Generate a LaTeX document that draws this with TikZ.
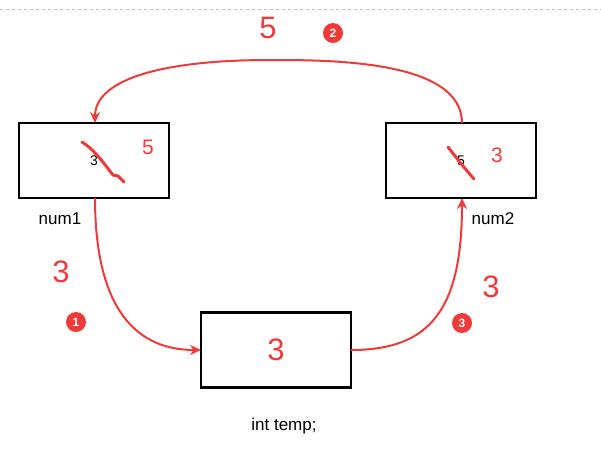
\documentclass[tikz,border=0pt]{standalone}
\usepackage{fontspec}
\setmainfont{Liberation Sans}
\usetikzlibrary{arrows.meta}
\definecolor{rd}{HTML}{F03A3A}
\begin{document}
\begin{tikzpicture}[x=1pt,y=-1pt,
 box/.style={draw,line width=2.2pt,minimum width=150pt,minimum height=75pt,inner sep=0},
 arr/.style={draw=rd,line width=2pt,-{Stealth[length=11pt,width=10pt]}},
 big/.style={text=rd,font=\fontsize{31}{31}\selectfont},
 mid/.style={text=rd,font=\fontsize{21}{21}\selectfont},
 lab/.style={font=\fontsize{17}{17}\selectfont},
 badge/.style={circle,fill=rd,text=white,inner sep=0,minimum size=20pt,font=\bfseries\fontsize{12}{12}\selectfont},
 strike/.style={draw=rd,line width=3pt,line cap=round}]
\useasboundingbox (0,0) rectangle (601,460);
\draw[gray!50,dashed,line width=1pt] (0,10) -- (601,10);
\node[box] (n1) at (94,160.5) {};
\node[box] (n2) at (461,160.5) {};
\node[box] (t) at (276,350) {};
\node[font=\fontsize{14}{14}\selectfont] (v1) at (94,161) {3};
\node[font=\fontsize{14}{14}\selectfont] (v2) at (461,161) {5};
\draw[strike] (82,142) .. controls (95,150) and (105,165) .. (113,175) -- (118,176) -- (124,182);
\draw[strike] (448,147) .. controls (458,160) and (466,170) .. (474,179);
\node[mid] (r1) at (148,147) {5};
\node[mid] (r2) at (497,155) {3};
\node[big] (tv) at (276,350) {3};
\node[lab] (l1) at (60,219) {num1};
\node[lab] (l2) at (493,219) {num2};
\node[lab] (lt) at (284,426) {int temp;};
\node[big] (a5) at (268,28) {5};
\node[badge] (b2) at (333,33) {2};
\node[big] (a1) at (61,272) {3};
\node[badge] (b1) at (76,322) {1};
\node[big] (a3) at (491,287) {3};
\node[badge] (b3) at (462,323) {3};
\coordinate (s1) at (95,198);
\coordinate (e1) at (201,350);
\coordinate (s3) at (351,350);
\coordinate (e3) at (462,198);
\coordinate (s2) at (462,123);
\coordinate (e2) at (95,123);
\draw[arr] (s1) .. controls (95,300) and (130,350) .. (e1);
\draw[arr] (s3) .. controls (430,350) and (462,310) .. (e3);
\draw[arr] (s2) .. controls (462,60) and (330,60) .. (270,60) .. controls (160,60) and (95,80) .. (e2);
\end{tikzpicture}
\end{document}
